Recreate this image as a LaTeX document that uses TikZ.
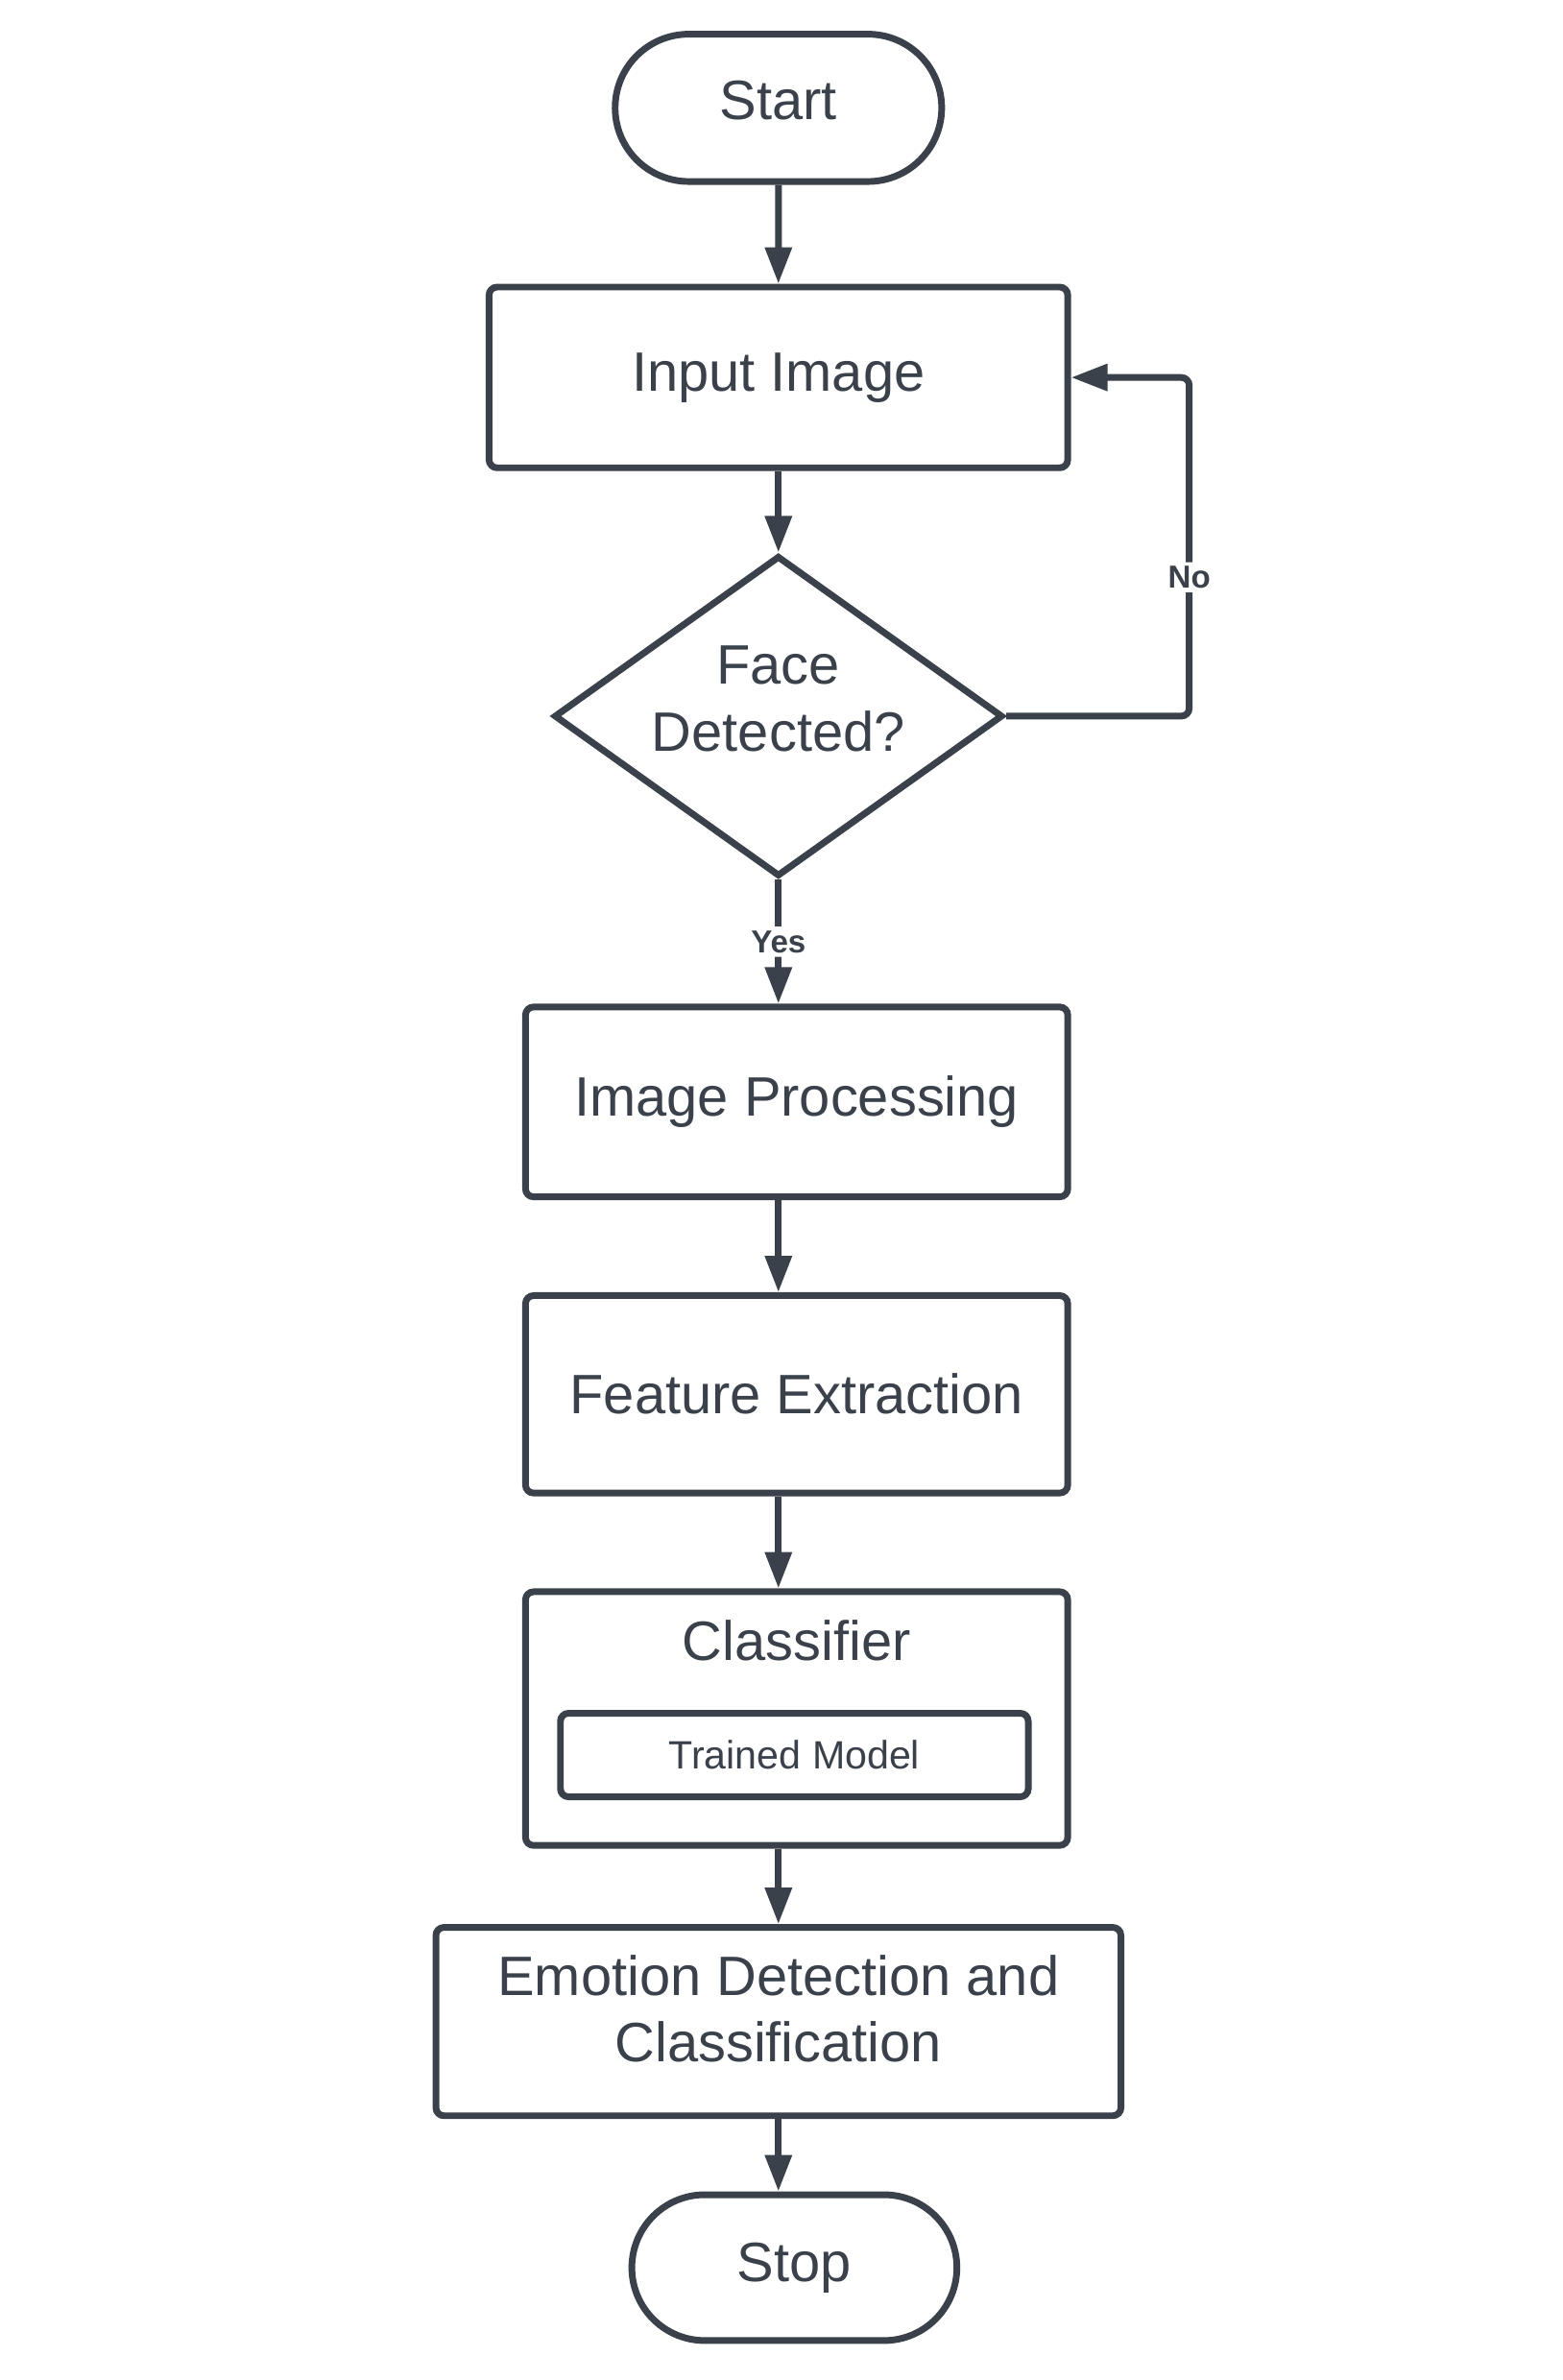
\documentclass[tikz,border=0pt]{standalone}
\usepackage{fontspec}
\setmainfont{Liberation Sans}
\usetikzlibrary{shapes.geometric,shapes.misc,arrows.meta}
\definecolor{ink}{HTML}{3A414A}

\begin{document}
\begin{tikzpicture}[
    every node/.style={text=ink, font=\fontsize{20.8}{25}\selectfont},
    terminal/.style={draw=ink, line width=2.5pt, rounded rectangle, inner sep=0pt, minimum width=4.3cm, minimum height=1.94cm},
    process/.style={draw=ink, line width=2.5pt, rounded corners=3pt, inner sep=0pt, align=center},
    decision/.style={draw=ink, line width=2.5pt, diamond, aspect=1.4, inner sep=0pt, align=center, minimum width=5.86cm, minimum height=4.2cm},
    flow/.style={draw=ink, line width=2.5pt, rounded corners=3pt, -{Triangle[width=0.34cm, length=0.48cm]}},
    tag/.style={fill=white, inner sep=1.5pt, font=\bfseries\fontsize{11.9}{13}\selectfont}
  ]
  \useasboundingbox (0,0) rectangle (20.58,-31.34);

  % boxes
  \node[terminal, text depth=0.2cm] (start) at (10.25,-1.42) {Start};
  \node[process, minimum width=7.62cm, minimum height=2.38cm] (input) at (10.25,-4.97) {Input Image};
  \node[decision, text depth=0.46cm] (face) at (10.25,-9.43) {Face\\Detected?};
  \node[process, minimum width=7.14cm, minimum height=2.5cm] (imgproc) at (10.49,-14.51) {Image Processing};
  \node[process, minimum width=7.14cm, minimum height=2.6cm] (feature) at (10.49,-18.36) {Feature Extraction};
  \node[process, minimum width=7.14cm, minimum height=3.34cm] (classifier) at (10.49,-22.63) {};
  \node (clstitle) at (10.49,-21.60) {Classifier};
  \node[process, minimum width=6.16cm, minimum height=1.1cm, font=\fontsize{14.8}{17}\selectfont] (model) at (10.46,-23.11) {Trained Model};
  \node[process, minimum width=9.02cm, minimum height=2.48cm, text depth=0.34cm] (emotion) at (10.25,-26.62) {Emotion Detection and\\Classification};
  \node[terminal, minimum width=4.28cm, minimum height=1.92cm] (stop) at (10.46,-29.86) {Stop};

  % connectors
  \coordinate (loop) at (15.66,-4.97);
  \draw[flow] (start) -- (input);
  \draw[flow] (input) -- (face);
  \draw[flow] (face) -- (face |- imgproc.north) node[midway, tag] {Yes};
  \draw[flow] (face.east) -| (loop) node[pos=0.705, tag] {No} -- (input.east);
  \draw[flow] (imgproc.south -| input) -- (feature.north -| input);
  \draw[flow] (feature.south -| input) -- (classifier.north -| input);
  \draw[flow] (classifier.south -| input) -- (emotion);
  \draw[flow] (emotion) -- (stop.north -| emotion);
\end{tikzpicture}
\end{document}
